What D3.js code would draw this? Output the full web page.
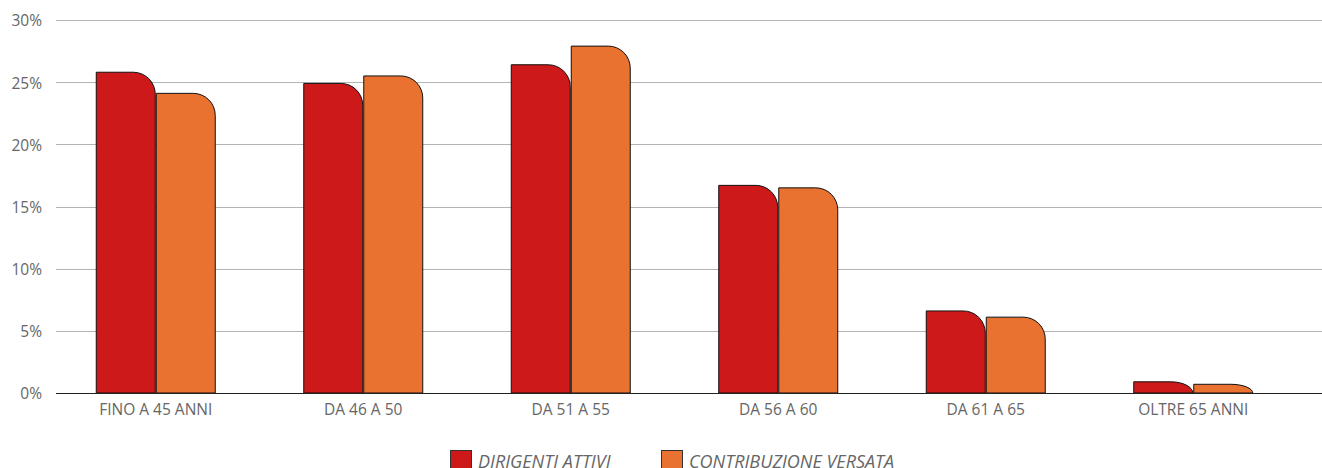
<!DOCTYPE html>
<html>
<head>
<meta charset="utf-8">
<script src="https://cdn.jsdelivr.net/npm/d3@7"></script>
<style>
  body { margin: 0; background: #fff; }
  svg { display: block; font-family: "Open Sans", sans-serif; }
</style>
</head>
<body>
<div id="chart"></div>
<script>
var categories = ["FINO A 45 ANNI", "DA 46 A 50", "DA 51 A 55", "DA 56 A 60", "DA 61 A 65", "OLTRE 65 ANNI"];
var seriesNames = ["DIRIGENTI ATTIVI", "CONTRIBUZIONE VERSATA"];
var dirigenti = [25.8, 24.9, 26.4, 16.7, 6.6, 0.9];
var contribuzione = [24.1, 25.5, 27.9, 16.5, 6.1, 0.7];
var yTicks = [0, 5, 10, 15, 20, 25, 30];
var colors = ["#cd191a", "#e97230"];

var width = 1322, height = 468;
var svg = d3.select("#chart").append("svg")
    .attr("width", width)
    .attr("height", height);

// scales
var x = d3.scaleBand().domain(categories).range([52, 1297]).paddingInner(0).paddingOuter(0);
var y = d3.scaleLinear().domain([0, 30]).range([393, 20]);
var xs = d3.scaleBand().domain(seriesNames).range([0, 120]).paddingInner(0.0);

// gridlines
svg.append("g")
    .selectAll("line")
    .data(yTicks.filter(function (d) { return d > 0; }))
    .enter().append("line")
    .attr("x1", 56).attr("x2", width)
    .attr("y1", function (d) { return Math.round(y(d)) + 0.5; })
    .attr("y2", function (d) { return Math.round(y(d)) + 0.5; })
    .attr("stroke", "#b3b3b3").attr("stroke-width", 1);

// y axis labels
svg.append("g")
    .selectAll("text")
    .data(yTicks)
    .enter().append("text")
    .attr("x", 42)
    .attr("y", function (d) { return y(d) + 1; })
    .attr("dy", "0.35em")
    .attr("text-anchor", "end")
    .attr("fill", "#666")
    .style("font-size", "15.5px")
    .text(function (d) { return d + "%"; });

// bar with rounded top-right corner
function barPath(x0, w, yTop, yBase) {
    var h = yBase - yTop;
    var r = Math.min(22, w, h);
    var rx = Math.min(22, w);
    return "M" + x0 + "," + yBase +
        "V" + yTop +
        "H" + (x0 + w - rx) +
        "A" + rx + "," + r + " 0 0 1 " + (x0 + w) + "," + (yTop + r) +
        "V" + yBase + "Z";
}

var series = [dirigenti, contribuzione];
var groupOffset = (x.bandwidth() - 120) / 2;

series.forEach(function (vals, si) {
    svg.append("g")
        .selectAll("path")
        .data(vals)
        .enter().append("path")
        .attr("d", function (d, i) {
            var x0 = x(categories[i]) + groupOffset + xs(seriesNames[si]) + 0.5;
            return barPath(x0, xs.bandwidth() - 1, y(d), y(0));
        })
        .attr("fill", colors[si])
        .attr("stroke", "#111")
        .attr("stroke-width", 1);
});

// baseline
svg.append("line")
    .attr("x1", 56).attr("x2", width)
    .attr("y1", 393.5).attr("y2", 393.5)
    .attr("stroke", "#222").attr("stroke-width", 1);

// x labels
svg.append("g")
    .selectAll("text")
    .data(categories)
    .enter().append("text")
    .attr("x", function (d) { return x(d) + x.bandwidth() / 2; })
    .attr("y", 415)
    .attr("text-anchor", "middle")
    .attr("fill", "#666")
    .style("font-size", "15.5px")
    .text(function (d) { return d; });

// legend
var legendX = [450, 661];
var legend = svg.append("g")
    .selectAll("g")
    .data(seriesNames)
    .enter().append("g")
    .attr("transform", function (d, i) { return "translate(" + legendX[i] + ",450)"; });

legend.append("rect")
    .attr("x", 0.5).attr("y", 0.5)
    .attr("width", 21).attr("height", 21)
    .attr("fill", function (d, i) { return colors[i]; })
    .attr("stroke", "#333");

legend.append("text")
    .attr("x", 28)
    .attr("y", 18)
    .attr("fill", "#666")
    .style("font-size", "18px")
    .style("font-style", "italic")
    .text(function (d) { return d; });
</script>
</body>
</html>
